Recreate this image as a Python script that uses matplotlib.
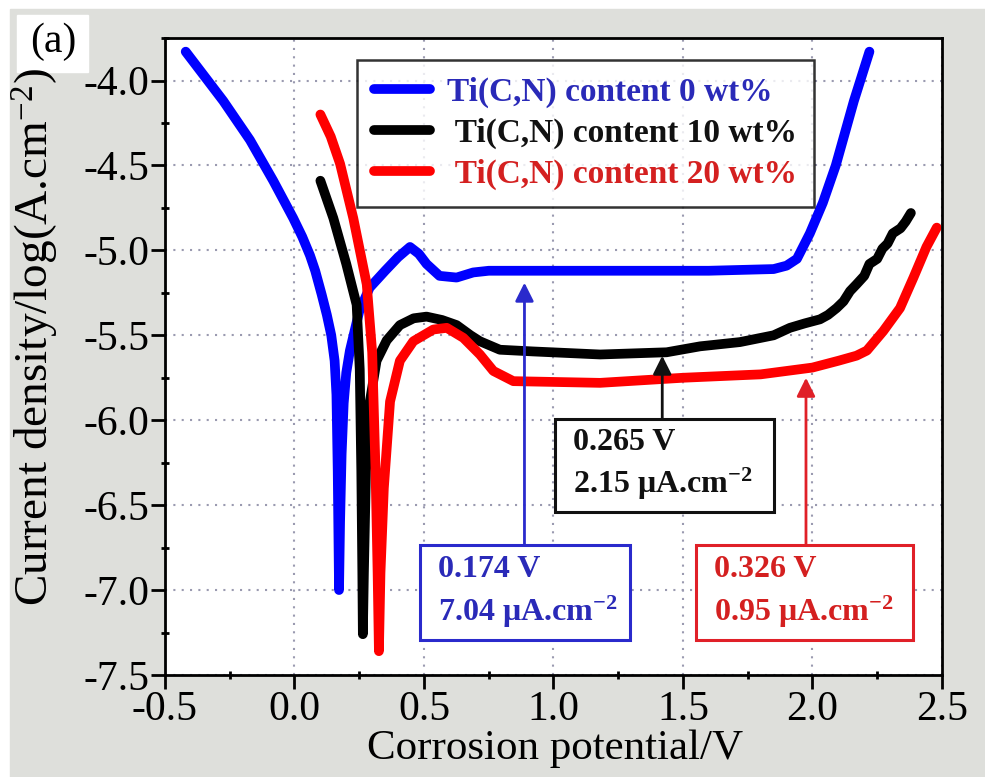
import matplotlib
matplotlib.use("Agg")
import matplotlib.pyplot as plt
from matplotlib.patches import Rectangle
from matplotlib.ticker import MultipleLocator

plt.rcParams['font.family'] = ['Liberation Serif', 'DejaVu Serif']
plt.rcParams['mathtext.fontset'] = 'custom'
plt.rcParams['mathtext.rm'] = 'Liberation Serif'
plt.rcParams['mathtext.default'] = 'regular'
plt.rcParams['axes.unicode_minus'] = False

# Ti(C,N) content 0 wt%
x0 = [-0.42, -0.35, -0.275, -0.172, -0.082, -0.005, 0.03, 0.06, 0.08, 0.105, 0.125, 0.142,
      0.155, 0.162, 0.167, 0.172, 0.176, 0.182, 0.19, 0.2, 0.214, 0.25, 0.29, 0.35, 0.40,
      0.446, 0.48, 0.51, 0.56, 0.626, 0.69, 0.75, 0.8, 1.0, 1.3, 1.6, 1.85, 1.9, 1.94,
      1.99, 2.04, 2.09, 2.16, 2.22]
y0 = [-3.83, -3.97, -4.12, -4.35, -4.59, -4.81, -4.92, -5.03, -5.12, -5.26, -5.38, -5.5,
      -5.65, -5.85, -6.3, -7.0, -6.6, -6.2, -5.9, -5.72, -5.59, -5.36, -5.22, -5.12, -5.04,
      -4.98, -5.02, -5.08, -5.15, -5.16, -5.13, -5.12, -5.12, -5.12, -5.12, -5.12, -5.11,
      -5.09, -5.05, -4.9, -4.72, -4.5, -4.12, -3.83]

# Ti(C,N) content 10 wt%
x10 = [0.10, 0.15, 0.20, 0.24, 0.252, 0.258, 0.262, 0.264, 0.268, 0.276, 0.29, 0.317,
       0.356, 0.407, 0.46, 0.51, 0.57, 0.626, 0.68, 0.716, 0.793, 0.92, 1.18, 1.437,
       1.566, 1.72, 1.85, 1.913, 1.97, 2.029, 2.06, 2.093, 2.12, 2.145, 2.17, 2.2,
       2.22, 2.25, 2.27, 2.29, 2.31, 2.34, 2.36, 2.38]
y10 = [-4.59, -4.81, -5.08, -5.32, -5.7, -6.3, -6.9, -7.26, -6.9, -6.3, -5.9, -5.65,
       -5.53, -5.44, -5.40, -5.39, -5.41, -5.44, -5.5, -5.535, -5.585, -5.595, -5.613, -5.6,
       -5.565, -5.54, -5.5, -5.456, -5.43, -5.406, -5.38, -5.34, -5.3, -5.24, -5.2, -5.15,
       -5.08, -5.05, -4.99, -4.96, -4.9, -4.87, -4.83, -4.78]

# Ti(C,N) content 20 wt%
x20 = [0.10, 0.14, 0.176, 0.227, 0.279, 0.30, 0.313, 0.321, 0.326, 0.332, 0.345, 0.369,
       0.407, 0.459, 0.536, 0.588, 0.652, 0.716, 0.768, 0.845, 1.18, 1.5, 1.8, 2.0,
       2.1, 2.17, 2.21, 2.273, 2.338, 2.39, 2.44, 2.48]
y20 = [-4.2, -4.33, -4.49, -4.81, -5.2, -5.6, -6.3, -6.9, -7.36, -6.9, -6.4, -5.89,
       -5.65, -5.535, -5.466, -5.456, -5.515, -5.613, -5.71, -5.77, -5.78, -5.75, -5.73, -5.69,
       -5.65, -5.62, -5.59, -5.476, -5.34, -5.16, -4.98, -4.866]

labels = ['Ti(C,N) content 0 wt%', ' Ti(C,N) content 10 wt%', ' Ti(C,N) content 20 wt%']
line_colors = ['#0000ff', '#000000', '#ff0000']
text_colors = ['#2a2ab8', '#111111', '#d42020']

# annotations: corrosion potential, current density, arrow x, arrow tip, box (x0, x1, y0, y1)
ann_text = [('0.174 V', '7.04 μA.cm$^{-2}$'),
            ('0.265 V', '2.15 μA.cm$^{-2}$'),
            ('0.326 V', '0.95 μA.cm$^{-2}$')]
ann_arrow_x = [0.888, 1.42, 1.975]
ann_arrow_tip = [-5.19, -5.62, -5.75]
ann_box = [(0.483, 1.295, -7.294, -6.733),
           (1.004, 1.85, -6.54, -5.99),
           (1.55, 2.39, -7.294, -6.733)]
ann_edge = ['#2a2acc', '#111111', '#e02028']

fig = plt.figure(figsize=(9.85, 7.77), dpi=100)
fig.patches.append(Rectangle((10 / 985, 0), 1, 1 - 9 / 777, transform=fig.transFigure,
                             color='#dedfdb', zorder=-10))
fig.patches.append(Rectangle((17 / 985, 1 - 72 / 777), 71 / 985, 57 / 777,
                             transform=fig.transFigure, color='white', zorder=-9))
fig.text(53 / 985, 1 - 42 / 777, '(a)', fontsize=30, ha='center', va='center')

ax = fig.add_axes([0.1675, 0.1313, 0.7888, 0.8197])
ax.set_xlim(-0.5, 2.5)
ax.set_ylim(-7.5, -3.75)

for xs, ys, c, lab in zip([x0, x10, x20], [y0, y10, y20], line_colors, labels):
    ax.plot(xs, ys, color=c, lw=7, solid_capstyle='round', solid_joinstyle='round', label=lab)

leg = ax.legend(loc='upper left', bbox_to_anchor=(0.247, 0.966),
                prop={'weight': 'bold', 'size': 24}, frameon=True, fancybox=False,
                edgecolor='black', handlelength=1.7, handletextpad=0.5,
                borderpad=0.5, labelspacing=0.3, borderaxespad=0)
leg.get_frame().set_linewidth(1.8)
for t, c in zip(leg.get_texts(), text_colors):
    t.set_color(c)

for (l1, l2), ax_x, tip, box, ec, tc in zip(ann_text, ann_arrow_x, ann_arrow_tip,
                                            ann_box, ann_edge, text_colors):
    bx0, bx1, by0, by1 = box
    ax.add_patch(Rectangle((bx0, by0), bx1 - bx0, by1 - by0, fill=True, facecolor='white',
                           edgecolor=ec, lw=2.2, zorder=5))
    ax.annotate('', xy=(ax_x, tip), xytext=(ax_x, by1),
                arrowprops=dict(arrowstyle='-|>', color=ec, lw=2, mutation_scale=28,
                                shrinkA=0, shrinkB=0), zorder=6)
    h = by1 - by0
    ax.text(bx0 + 0.07, by1 - h * 0.26, l1, color=tc, fontsize=23, fontweight='bold',
            va='center', ha='left', zorder=7)
    ax.text(bx0 + 0.07, by1 - h * 0.7, l2, color=tc, fontsize=23, fontweight='bold',
            va='center', ha='left', zorder=7)

ax.xaxis.set_major_locator(MultipleLocator(0.5))
ax.xaxis.set_minor_locator(MultipleLocator(0.25))
ax.yaxis.set_major_locator(MultipleLocator(0.5))
ax.yaxis.set_minor_locator(MultipleLocator(0.25))
ax.grid(True, which='major', color='#9a9ab0', ls=(0, (1, 3)), lw=1.5)
ax.tick_params(which='major', direction='out', length=10, width=2, labelsize=30, pad=1)
ax.tick_params(which='minor', direction='inout', length=6, width=2)
for s in ax.spines.values():
    s.set_linewidth(2)

ax.set_xlabel('Corrosion potential/V', fontsize=31)
ax.xaxis.set_label_coords(0.502, -0.086)
ax.set_ylabel('Current density/log(A.cm$^{-2}$)', fontsize=34)
ax.yaxis.set_label_coords(-0.134, 0.53)

fig.savefig('out.png', dpi=100)
